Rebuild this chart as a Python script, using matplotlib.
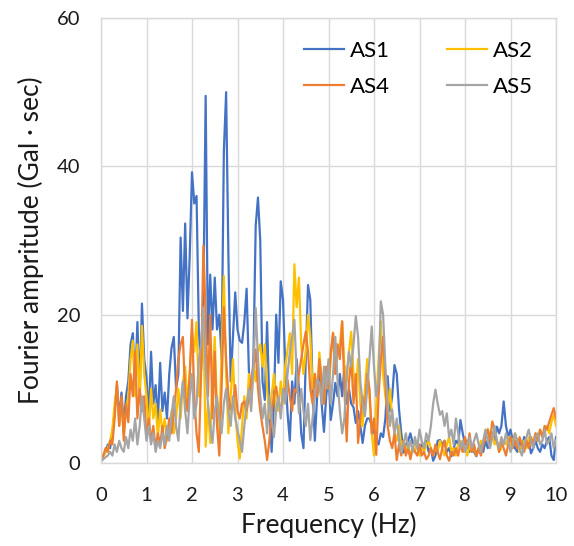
import numpy as np
import matplotlib
matplotlib.use("Agg")
import matplotlib.pyplot as plt

# Frequency axis, 0.05 Hz steps from 0 to 10 Hz
freq = np.round(np.arange(201) * 0.05, 2)

as1 = [0.5, 1.0, 1.5, 2.5, 2.0, 4.0, 7.0, 10.5, 6.0, 9.5,
       5.0, 9.0, 11.0, 16.0, 17.5, 10.0, 19.0, 9.0, 21.5, 14.0,
       11.5, 6.0, 15.0, 8.0, 10.5, 5.5, 13.5, 7.0, 9.5, 6.0,
       12.0, 15.5, 17.0, 10.0, 12.0, 30.4, 20.5, 32.3, 19.5, 28.0,
       39.2, 35.0, 36.0, 18.0, 12.5, 22.0, 49.5, 16.0, 25.4, 18.0,
       25.0, 18.0, 20.0, 14.0, 42.0, 50.0, 28.0, 11.0, 17.0, 23.0,
       18.0, 16.5, 16.2, 19.0, 23.5, 12.5, 9.0, 14.0, 32.0, 35.8,
       30.0, 11.0, 8.5, 19.0, 8.0, 1.5, 8.0, 20.0, 13.5, 24.5,
       22.0, 13.0, 6.7, 3.0, 11.0, 8.0, 14.0, 10.0, 4.0, 2.0,
       14.0, 24.0, 22.0, 10.0, 3.0, 9.0, 12.0, 8.0, 4.2, 9.0,
       12.0, 5.8, 8.0, 10.8, 9.0, 12.0, 9.0, 13.0, 8.0, 9.9,
       8.0, 7.5, 5.4, 7.0, 5.0, 2.7, 5.0, 6.0, 6.0, 5.0,
       4.2, 3.0, 2.5, 4.0, 3.5, 6.0, 11.7, 7.0, 9.0, 13.2,
       12.0, 7.2, 4.0, 1.4, 2.5, 3.0, 4.0, 2.7, 3.0, 2.0,
       1.8, 2.5, 2.0, 3.0, 1.5, 2.0, 0.3, 1.0, 3.0, 3.1,
       2.5, 3.0, 1.5, 2.0, 0.9, 2.0, 3.0, 2.5, 5.8, 4.0,
       2.5, 3.0, 1.5, 2.5, 1.5, 0.9, 2.0, 2.5, 1.5, 3.0,
       2.0, 3.5, 3.5, 3.0, 4.9, 4.0, 5.0, 8.3, 5.0, 3.5,
       4.5, 3.0, 2.0, 1.5, 3.0, 2.0, 3.5, 2.5, 3.0, 1.3,
       2.0, 3.0, 2.0, 1.5, 2.5, 2.0, 3.0, 3.5, 1.0, 0.4,
       3.5]

as2 = [0.5, 1.0, 1.5, 2.0, 3.0, 4.5, 8.0, 10.5, 5.0, 8.5,
       4.0, 7.0, 9.0, 14.0, 16.5, 9.0, 16.0, 8.0, 18.5, 12.0,
       9.0, 4.0, 10.0, 6.0, 8.0, 3.5, 7.2, 4.0, 6.0, 3.0,
       5.0, 7.0, 4.0, 6.0, 10.0, 6.0, 10.8, 13.0, 8.0, 12.0,
       17.6, 15.0, 19.0, 9.0, 14.0, 19.5, 2.2, 8.0, 2.7, 12.0,
       17.0, 7.0, 4.0, 15.0, 25.2, 12.0, 4.0, 9.0, 14.0, 7.0,
       3.0, 0.6, 5.0, 9.0, 6.0, 12.0, 8.0, 13.0, 11.0, 15.0,
       16.0, 13.0, 16.0, 10.0, 6.0, 9.0, 12.0, 7.0, 7.1, 11.0,
       8.0, 13.0, 15.3, 17.5, 12.0, 26.8, 21.0, 25.0, 16.0, 12.0,
       15.0, 20.0, 17.0, 10.0, 12.0, 9.0, 14.9, 11.0, 8.0, 12.0,
       10.0, 14.0, 17.6, 12.0, 15.0, 16.0, 19.1, 13.0, 11.0, 15.0,
       17.7, 12.0, 9.0, 14.0, 8.0, 5.0, 10.0, 14.0, 9.0, 4.0,
       1.0, 8.0, 14.0, 19.1, 12.0, 9.0, 7.0, 10.0, 6.0, 4.0,
       3.0, 5.0, 2.0, 3.0, 1.5, 2.5, 1.0, 2.0, 1.5, 3.0,
       1.0, 2.0, 1.5, 2.5, 3.0, 2.0, 1.0, 2.0, 1.5, 3.0,
       2.0, 1.0, 2.5, 3.5, 1.5, 2.0, 1.0, 2.5, 3.0, 1.5,
       2.0, 1.0, 2.5, 1.5, 2.0, 1.0, 2.0, 3.0, 2.5, 3.5,
       4.6, 3.5, 4.0, 2.5, 3.0, 1.5, 2.0, 3.0, 2.5, 3.5,
       2.0, 3.0, 4.0, 2.5, 1.5, 2.5, 3.0, 2.0, 3.5, 2.5,
       3.0, 4.0, 3.0, 4.5, 3.5, 4.0, 5.0, 4.0, 5.5, 6.5,
       5.0]

as4 = [0.3, 1.0, 2.0, 1.5, 3.0, 2.5, 6.0, 11.0, 5.0, 9.0,
       3.0, 8.0, 5.5, 12.0, 9.0, 15.0, 6.0, 10.0, 7.0, 9.0,
       3.5, 6.0, 3.0, 5.0, 2.0, 4.0, 2.5, 5.0, 2.0, 3.5,
       6.0, 4.0, 7.0, 10.0, 14.0, 16.0, 17.0, 9.0, 7.0, 12.0,
       19.3, 9.0, 4.0, 1.5, 12.0, 29.3, 20.0, 9.0, 20.0, 6.0,
       15.0, 5.0, 1.0, 10.0, 21.0, 14.0, 9.0, 7.2, 8.0, 10.5,
       7.0, 6.0, 8.0, 8.3, 7.0, 9.0, 11.0, 13.0, 15.3, 10.0,
       7.0, 4.9, 3.0, 0.4, 3.0, 7.0, 9.0, 10.3, 8.0, 7.2,
       9.0, 10.0, 11.2, 9.0, 7.0, 10.0, 9.5, 12.0, 14.0, 16.0,
       17.7, 15.0, 10.0, 8.0, 12.0, 9.0, 14.0, 11.0, 8.0, 13.0,
       10.0, 15.0, 17.5, 12.0, 16.0, 14.0, 19.1, 10.0, 2.9, 11.0,
       14.0, 8.0, 12.0, 2.7, 6.0, 9.0, 7.0, 12.0, 10.0, 4.0,
       6.0, 1.1, 9.0, 14.0, 17.0, 11.0, 5.0, 3.0, 2.0, 4.0,
       0.4, 2.5, 1.0, 3.0, 1.0, 2.0, 0.5, 2.0, 1.5, 1.0,
       2.5, 1.0, 1.5, 0.5, 1.0, 2.0, 1.0, 2.5, 1.5, 0.5,
       2.0, 3.0, 1.0, 0.3, 1.5, 1.0, 2.0, 1.0, 2.5, 1.5,
       3.5, 2.0, 4.0, 1.5, 2.5, 1.0, 2.0, 1.0, 2.5, 3.5,
       4.5, 3.0, 5.6, 4.5, 3.0, 1.5, 3.0, 2.0, 1.0, 2.5,
       3.5, 2.0, 3.0, 2.0, 3.5, 2.5, 1.5, 3.0, 2.0, 3.5,
       2.5, 4.0, 3.0, 4.5, 3.5, 5.0, 4.5, 5.5, 6.5, 7.4,
       6.0]

as5 = [0.2, 0.5, 0.8, 1.0, 1.5, 1.0, 2.5, 1.5, 3.0, 2.0,
       1.5, 3.5, 2.0, 4.5, 3.0, 6.0, 2.5, 5.0, 9.0, 6.0,
       3.0, 5.0, 2.5, 4.0, 1.5, 3.0, 2.0, 4.0, 2.5, 5.0,
       3.0, 6.5, 9.0, 5.0, 3.0, 8.0, 11.0, 7.0, 4.0, 9.0,
       12.0, 6.0, 8.0, 14.0, 16.0, 21.0, 12.6, 8.0, 5.0, 2.7,
       7.0, 9.0, 6.0, 4.0, 8.0, 10.0, 7.0, 5.0, 9.0, 6.0,
       4.5, 3.0, 1.5, 5.0, 8.0, 10.0, 7.0, 13.0, 20.9, 14.0,
       9.0, 6.0, 8.0, 4.0, 9.0, 6.0, 3.5, 7.0, 9.0, 6.0,
       10.0, 8.0, 12.0, 14.9, 17.0, 19.3, 12.0, 6.7, 10.0, 7.0,
       5.0, 8.0, 3.1, 6.0, 9.0, 11.2, 10.8, 8.0, 13.0, 10.0,
       14.0, 8.0, 12.0, 17.0, 11.0, 7.0, 4.0, 6.0, 12.0, 15.0,
       13.0, 16.0, 19.8, 17.0, 11.0, 8.0, 6.3, 10.0, 14.0, 18.4,
       13.0, 9.0, 11.0, 21.8, 20.0, 13.0, 8.0, 5.0, 7.2, 4.0,
       6.0, 3.0, 1.5, 2.5, 4.0, 2.0, 3.0, 1.5, 3.5, 2.0,
       4.5, 3.0, 2.0, 4.0, 3.0, 5.0, 8.0, 9.9, 8.0, 6.5,
       7.0, 5.0, 6.7, 3.5, 4.5, 2.5, 6.0, 4.0, 2.0, 3.0,
       1.5, 2.5, 3.5, 2.0, 3.0, 4.0, 2.5, 1.5, 3.0, 4.5,
       3.0, 2.0, 3.5, 5.0, 3.0, 2.0, 3.5, 2.5, 4.0, 3.0,
       1.5, 2.5, 4.0, 3.0, 2.0, 1.0, 2.5, 3.5, 4.5, 3.0,
       2.0, 3.5, 4.0, 2.5, 3.0, 4.5, 2.5, 3.0, 4.0, 2.0,
       3.0]

series_names = ["AS1", "AS2", "AS4", "AS5"]
series_values = [as1, as2, as4, as5]
series_colors = ["#4472C4", "#FFC000", "#ED7D31", "#A5A5A5"]

x_ticks = list(range(0, 11))
y_ticks = [0, 20, 40, 60]

plt.rcParams["font.family"] = ["Lato", "DejaVu Sans"]

fig = plt.figure(figsize=(5.74, 5.46), dpi=100)
ax = fig.add_axes([101 / 574, 1 - 463 / 546, 455 / 574, 445 / 546])

handles = {}
for name, vals, col in zip(series_names, series_values, series_colors):
    (ln,) = ax.plot(freq, vals, color=col, lw=1.6, label=name, solid_joinstyle="round")
    handles[name] = ln

ax.set_xlim(0, 10)
ax.set_ylim(0, 60)
ax.set_xticks(x_ticks)
ax.set_yticks(y_ticks)
ax.tick_params(axis="x", length=0, labelsize=14.5, colors="#1a1a1a", pad=17)
ax.tick_params(axis="y", length=0, labelsize=14.5, colors="#1a1a1a", pad=15)
ax.grid(True, color="#D9D9D9", lw=1.0)
ax.set_axisbelow(True)
for sp in ax.spines.values():
    sp.set_color("#D9D9D9")
    sp.set_linewidth(1.0)

ax.set_xlabel("Frequency (Hz)", fontsize=19, color="#1a1a1a", labelpad=6)
ax.set_ylabel("Fourier ampritude (Gal · sec)", fontsize=19, color="#1a1a1a", labelpad=9)

# two columns, filled row by row: AS1 AS2 / AS4 AS5
order = ["AS1", "AS4", "AS2", "AS5"]
ax.legend([handles[n] for n in order], order, ncol=2, loc="upper left",
          bbox_to_anchor=(0.402, 0.993), frameon=False,
          fontsize=16, handlelength=1.8, columnspacing=2.6, handletextpad=0.25,
          labelspacing=0.7)

fig.savefig("out.png", dpi=100)
